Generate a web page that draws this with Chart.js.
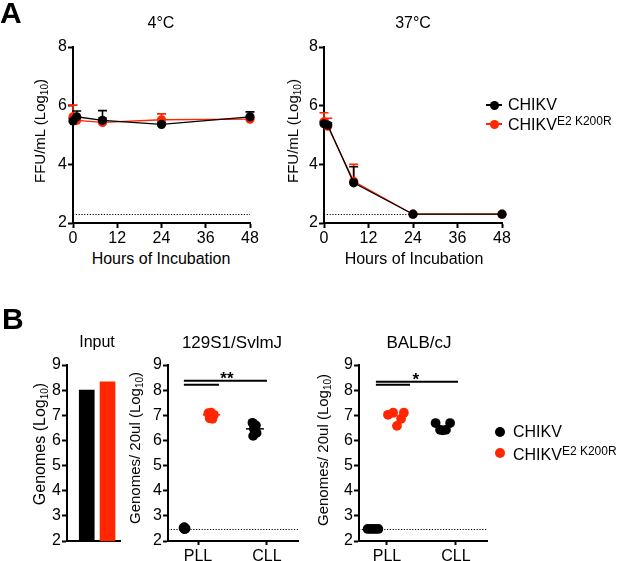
<!DOCTYPE html>
<html><head><meta charset="utf-8">
<script src="https://cdn.jsdelivr.net/npm/chart.js@4/dist/chart.umd.min.js"></script>
<style>
html,body{margin:0;padding:0;background:#fff;}
#fig{position:relative;width:617px;height:561px;overflow:hidden;font-family:"Liberation Sans",Arial,sans-serif;color:#000;}
#fig canvas{position:absolute;}
.t{position:absolute;white-space:nowrap;line-height:1;}
.c{transform:translate(-50%,-50%);}
.l{transform:translate(0,-50%);}
.r{transform:translate(-50%,-50%) rotate(-90deg);}
.sub{font-size:10px;vertical-align:-3px;}
.sup{font-size:12px;vertical-align:5px;}
.dot{position:absolute;border-radius:50%;}
.ln{position:absolute;height:1.5px;}
</style></head>
<body><div id="fig">
<canvas id="a1" width="275" height="250" style="left:0;top:0;width:275px;height:250px"></canvas>
<canvas id="a2" width="270" height="250" style="left:255px;top:0;width:270px;height:250px"></canvas>
<canvas id="b1" width="140" height="261" style="left:0;top:300px;width:140px;height:261px"></canvas>
<canvas id="b2" width="170" height="261" style="left:140px;top:300px;width:170px;height:261px"></canvas>
<canvas id="b3" width="170" height="261" style="left:330px;top:300px;width:170px;height:261px"></canvas>

<div class="t" style="left:0;top:12.5px;transform:translate(0,-50%);font-size:30px;font-weight:bold;">A</div>
<div class="t" style="left:2px;top:319px;transform:translate(0,-50%);font-size:30px;font-weight:bold;">B</div>

<div class="t c" style="left:161px;top:23px;font-size:16px;">4°C</div>
<div class="t c" style="left:413px;top:23px;font-size:16px;">37°C</div>
<div class="t r" style="left:40.5px;top:131px;font-size:15px;">FFU/mL (Log<span class="sub">10</span>)</div>
<div class="t r" style="left:293.5px;top:131px;font-size:15px;">FFU/mL (Log<span class="sub">10</span>)</div>
<div class="t c" style="left:161px;top:259px;font-size:16px;">Hours of Incubation</div>
<div class="t c" style="left:414px;top:259px;font-size:16px;">Hours of Incubation</div>

<div class="ln" style="left:486px;top:104.3px;width:16px;background:#000;"></div>
<div class="dot" style="left:489.5px;top:100.5px;width:9px;height:9px;background:#000;"></div>
<div class="t l" style="left:508px;top:105px;font-size:16px;">CHIKV</div>
<div class="ln" style="left:486px;top:123.3px;width:16px;background:#ff2600;"></div>
<div class="dot" style="left:489.5px;top:119.5px;width:9px;height:9px;background:#ff2600;"></div>
<div class="t l" style="left:508px;top:124px;font-size:16px;">CHIKV<span class="sup">E2 K200R</span></div>

<div class="t c" style="left:97px;top:342px;font-size:16px;">Input</div>
<div class="t c" style="left:232px;top:342px;font-size:17px;">129S1/SvlmJ</div>
<div class="t c" style="left:419px;top:342px;font-size:17px;">BALB/cJ</div>
<div class="t r" style="left:41px;top:444px;font-size:16px;">Genomes (Log<span class="sub">10</span>)</div>
<div class="t r" style="left:135.5px;top:448px;font-size:15px;">Genomes/ 20ul (Log<span class="sub">10</span>)</div>
<div class="t r" style="left:323.5px;top:450px;font-size:15px;">Genomes/ 20ul (Log<span class="sub">10</span>)</div>

<div class="dot" style="left:495px;top:427px;width:10px;height:10px;background:#000;"></div>
<div class="t l" style="left:513px;top:432px;font-size:16px;">CHIKV</div>
<div class="dot" style="left:495px;top:448px;width:10px;height:10px;background:#ff2600;"></div>
<div class="t l" style="left:513px;top:454px;font-size:16px;">CHIKV<span class="sup">E2 K200R</span></div>
</div>
<script>
// ================= DATA =================
// Panel A: infectivity (FFU/mL, log10) after incubation
const hours = [0, 1, 8, 24, 48];
const xTicksA = [0, 12, 24, 36, 48];
const yTicksA = [2, 4, 6, 8];
const chikv4C     = [5.48, 5.62, 5.50, 5.36, 5.62];
const chikv4C_err = [0.08, 0.20, 0.33, 0.06, 0.17];
const e2_4C       = [5.62, 5.50, 5.43, 5.52, 5.54];
const e2_4C_err   = [0.40, 0.10, 0.16, 0.20, 0.06];
const chikv37C     = [5.38, 5.34, 3.37, 2.30, 2.30];
const chikv37C_err = [0.08, 0.08, 0.55, 0, 0];
const e2_37C       = [5.45, 5.30, 3.42, 2.30, 2.30];
const e2_37C_err   = [0.31, 0.27, 0.58, 0, 0];
const lodA = 2.3;

// Panel B: genomes (log10)
const inputGenomes = [8.0, 8.33];          // CHIKV, CHIKV E2 K200R
const inputSlot = [0, 1];
const yTicksB = [2, 3, 4, 5, 6, 7, 8, 9];
const tissueLabels = ['PLL', 'CLL'];
const tissuePos = [1, 3];
const lodB = 2.47;

// 129S1/SvlmJ
const s129_chikvPLL_x = [0.58, 0.61, 0.64, 0.60, 0.62];
const s129_chikvPLL_y = [2.52, 2.47, 2.50, 2.55, 2.49];
const s129_e2PLL_x    = [1.30, 1.38, 1.46, 1.34, 1.42];
const s129_e2PLL_y    = [7.08, 7.10, 7.02, 6.88, 6.86];
const s129_chikvCLL_x = [2.58, 2.68, 2.62, 2.70, 2.60];
const s129_chikvCLL_y = [6.70, 6.60, 6.46, 6.30, 6.18];
const s129_medianSpanE2 = [1.14, 1.64];
const s129_medianSpanCLL = [2.39, 2.91];
const s129_sigUpper = [0.59, 3.00, 8.37];
const s129_sigLower = [0.59, 1.61, 8.21];
const s129_sigText = '**';
const s129_sigX = 1.84;

// BALB/cJ
const balb_chikvPLL_x = [0.44, 0.52, 0.60, 0.67, 0.75];
const balb_chikvPLL_y = [2.48, 2.48, 2.48, 2.48, 2.48];
const balb_e2PLL_x    = [1.03, 1.18, 1.29, 1.41, 1.49];
const balb_e2PLL_y    = [7.02, 7.10, 6.58, 6.86, 7.10];
const balb_chikvCLL_x = [2.41, 2.83, 2.54, 2.71, 2.62];
const balb_chikvCLL_y = [6.69, 6.69, 6.42, 6.42, 6.40];
const balb_sigUpper = [0.68, 3.06, 8.33];
const balb_sigLower = [0.68, 1.67, 8.21];
const balb_sigText = '*';
const balb_sigX = 1.84;

// ================= STYLE =================
const BLACK = '#000000';
const RED = '#ff2600';
Chart.defaults.font.family = '"Liberation Sans", Arial, sans-serif';
Chart.defaults.color = '#000';

function pts(xs, ys){ return xs.map((x,i)=>({x:x, y:ys[i]})); }
function median(a){ const s=[...a].sort((p,q)=>p-q); const m=Math.floor(s.length/2); return s.length%2?s[m]:(s[m-1]+s[m])/2; }

function layoutFor(box, area){
  return {padding:{top: area.T-box.top, right: box.left+box.w-area.R, left:0, bottom:0}};
}
function axis(extra){
  return Object.assign({
    border:{display:true, color:'#000', width:2},
    grid:{display:true, drawOnChartArea:false, drawTicks:true, tickLength:5, tickWidth:2, tickColor:'#000'}
  }, extra);
}
function extras(cfg){
  return {
    id:'extras',
    beforeDatasetsDraw(chart){
      const ctx = chart.ctx, a = chart.chartArea, y = chart.scales.y;
      ctx.save();
      if (cfg.lod != null){
        const py = Math.round(y.getPixelForValue(cfg.lod)) + 0.5;
        ctx.setLineDash([1.2,1.6]); ctx.lineWidth = 1; ctx.strokeStyle = '#000';
        ctx.beginPath(); ctx.moveTo(a.left, py); ctx.lineTo(a.right, py); ctx.stroke();
        ctx.setLineDash([]);
      }
      (cfg.errors||[]).forEach(e=>{
        const meta = chart.getDatasetMeta(e.ds);
        const vals = chart.data.datasets[e.ds].data;
        ctx.strokeStyle = e.color; ctx.lineWidth = 1.6;
        meta.data.forEach((pt,i)=>{
          const err = e.err[i]; if (!err) return;
          const top = y.getPixelForValue(vals[i].y + err);
          ctx.beginPath();
          ctx.moveTo(pt.x, pt.y); ctx.lineTo(pt.x, top);
          ctx.moveTo(pt.x-4.5, top); ctx.lineTo(pt.x+4.5, top);
          ctx.stroke();
        });
      });
      ctx.restore();
    },
    afterDatasetsDraw(chart){
      const ctx = chart.ctx, x = chart.scales.x, y = chart.scales.y;
      ctx.save();
      (cfg.medians||[]).forEach(m=>{
        const py = y.getPixelForValue(m.v);
        ctx.strokeStyle = m.color; ctx.lineWidth = 1.5;
        ctx.beginPath(); ctx.moveTo(x.getPixelForValue(m.span[0]), py); ctx.lineTo(x.getPixelForValue(m.span[1]), py); ctx.stroke();
      });
      if (cfg.sig){
        ctx.strokeStyle = '#000'; ctx.lineWidth = 2;
        [cfg.sig.upper, cfg.sig.lower].forEach(l=>{
          const py = y.getPixelForValue(l[2]);
          ctx.beginPath(); ctx.moveTo(x.getPixelForValue(l[0]), py); ctx.lineTo(x.getPixelForValue(l[1]), py); ctx.stroke();
        });
        ctx.fillStyle = '#000';
        ctx.font = 'bold 17px "Liberation Sans", Arial, sans-serif';
        ctx.textAlign = 'center'; ctx.textBaseline = 'alphabetic';
        ctx.fillText(cfg.sig.text, x.getPixelForValue(cfg.sig.x), y.getPixelForValue(cfg.sig.upper[2]) + 3);
      }
      ctx.restore();
    }
  };
}

function lineChartA(id, box, area, blackVals, blackErr, redVals, redErr){
  return new Chart(document.getElementById(id), {
    type:'line',
    data:{datasets:[
      {label:'CHIKV', data:pts(hours, blackVals), borderColor:BLACK, backgroundColor:BLACK, borderWidth:1.3,
       pointRadius:4.6, pointBorderWidth:0, pointBackgroundColor:BLACK, clip:false, tension:0},
      {label:'CHIKV E2 K200R', data:pts(hours, redVals), borderColor:RED, backgroundColor:RED, borderWidth:1.3,
       pointRadius:4.6, pointBorderWidth:0, pointBackgroundColor:RED, clip:false, tension:0}
    ]},
    options:{
      responsive:false, animation:false, events:[],
      layout: layoutFor(box, area),
      plugins:{legend:{display:false}, tooltip:{enabled:false}},
      scales:{
        x: axis({type:'linear', min:0, max:48,
          afterBuildTicks:s=>{ s.ticks = xTicksA.map(v=>({value:v})); },
          afterFit:s=>{ s.height = box.top+box.h-area.B; },
          ticks:{font:{size:16}, color:'#000', padding:1, maxRotation:0}}),
        y: axis({min:2, max:8,
          afterBuildTicks:s=>{ s.ticks = yTicksA.map(v=>({value:v})); },
          afterFit:s=>{ s.width = area.L-box.left; },
          ticks:{font:{size:16}, color:'#000', padding:1}})
      }
    },
    plugins:[extras({lod:lodA, errors:[{ds:1, err:redErr, color:RED},{ds:0, err:blackErr, color:BLACK}]})]
  });
}

lineChartA('a1', {left:0, top:0, w:275, h:250}, {L:73, R:250, T:47, B:223}, chikv4C, chikv4C_err, e2_4C, e2_4C_err);
lineChartA('a2', {left:255, top:0, w:270, h:250}, {L:324, R:502, T:47, B:223}, chikv37C, chikv37C_err, e2_37C, e2_37C_err);

// Input bar chart
(function(){
  const box = {left:0, top:300, w:140, h:261}, area = {L:67, R:120, T:365, B:541};
  new Chart(document.getElementById('b1'), {
    type:'bar',
    data:{datasets:[{
      data: inputSlot.map((s,i)=>({x:s, y:[yTicksB[0], inputGenomes[i]]})),
      backgroundColor:[BLACK, RED], borderWidth:0, barThickness:15, clip:false
    }]},
    options:{
      responsive:false, animation:false, events:[],
      layout: layoutFor(box, area),
      plugins:{legend:{display:false}, tooltip:{enabled:false}},
      scales:{
        x: axis({type:'linear', min:-0.95, max:1.6, offset:false,
          grid:{display:true, drawOnChartArea:false, drawTicks:false},
          afterFit:s=>{ s.height = box.top+box.h-area.B; },
          ticks:{display:false}}),
        y: axis({min:2, max:9,
          afterBuildTicks:s=>{ s.ticks = yTicksB.map(v=>({value:v})); },
          afterFit:s=>{ s.width = area.L-box.left; },
          ticks:{font:{size:16}, color:'#000', padding:1}})
      }
    }
  });
})();

function scatterB(id, box, area, xmin, groups, extraCfg){
  return new Chart(document.getElementById(id), {
    type:'scatter',
    data:{datasets: groups.map(g=>({data:pts(g.x, g.y), backgroundColor:g.color, pointRadius:4.9,
      pointBorderWidth:0, clip:false}))},
    options:{
      responsive:false, animation:false, events:[],
      layout: layoutFor(box, area),
      plugins:{legend:{display:false}, tooltip:{enabled:false}},
      scales:{
        x: axis({type:'linear', min:xmin, max:3.9,
          afterBuildTicks:s=>{ s.ticks = tissuePos.map(v=>({value:v})); },
          afterFit:s=>{ s.height = box.top+box.h-area.B; },
          grid:{display:true, drawOnChartArea:false, drawTicks:true, tickLength:4, tickWidth:2, tickColor:'#000'},
          ticks:{font:{size:16}, color:'#000', padding:2, maxRotation:0,
            callback:(v,i)=>tissueLabels[i]}}),
        y: axis({min:2, max:9,
          afterBuildTicks:s=>{ s.ticks = yTicksB.map(v=>({value:v})); },
          afterFit:s=>{ s.width = area.L-box.left; },
          ticks:{font:{size:16}, color:'#000', padding:1}})
      }
    },
    plugins:[extras(extraCfg)]
  });
}

scatterB('b2', {left:140, top:300, w:170, h:261}, {L:168, R:298, T:365, B:541}, 0.13, [
  {x:s129_chikvCLL_x, y:s129_chikvCLL_y, color:BLACK},
  {x:s129_chikvPLL_x, y:s129_chikvPLL_y, color:BLACK},
  {x:s129_e2PLL_x, y:s129_e2PLL_y, color:RED}
], {lod:lodB,
    medians:[{span:s129_medianSpanE2, v:median(s129_e2PLL_y), color:RED},
             {span:s129_medianSpanCLL, v:median(s129_chikvCLL_y), color:BLACK}],
    sig:{upper:s129_sigUpper, lower:s129_sigLower, text:s129_sigText, x:s129_sigX}});

scatterB('b3', {left:330, top:300, w:170, h:261}, {L:359, R:487, T:365, B:541}, 0.19, [
  {x:balb_chikvCLL_x, y:balb_chikvCLL_y, color:BLACK},
  {x:balb_chikvPLL_x, y:balb_chikvPLL_y, color:BLACK},
  {x:balb_e2PLL_x, y:balb_e2PLL_y, color:RED}
], {lod:lodB,
    sig:{upper:balb_sigUpper, lower:balb_sigLower, text:balb_sigText, x:balb_sigX}});
</script>
</body></html>
